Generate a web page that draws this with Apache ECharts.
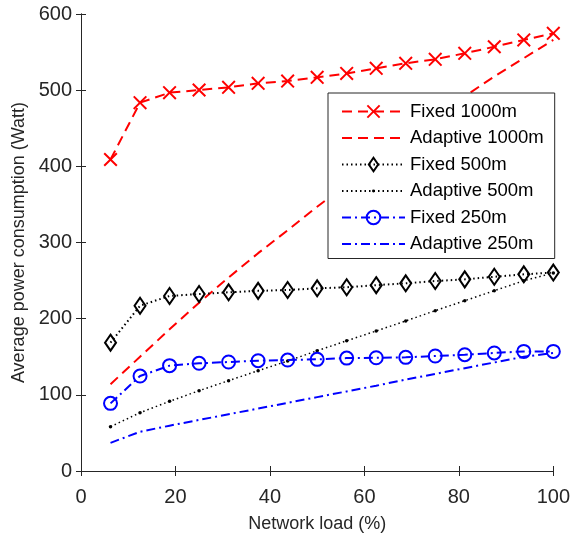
<!DOCTYPE html>
<html>
<head>
<meta charset="utf-8">
<script src="https://cdn.jsdelivr.net/npm/echarts@6/dist/echarts.min.js"></script>
<style>
html,body{margin:0;padding:0;background:#fff;}
#chart{width:573px;height:540px;}
</style>
</head>
<body>
<div id="chart"></div>
<script>
const loads = [6.25,12.5,18.75,25,31.25,37.5,43.75,50,56.25,62.5,68.75,75,81.25,87.5,93.75,100];
const fixed1000 = [409,483.6,496.7,500.2,503.7,509,512,516.8,522,528.7,535.3,540.5,548.4,557,566,574.6];
const adaptive1000 = [114,150,186,221,254,286,316,347,376,405,434,463,492,518,542,566];
const fixed500 = [168.5,217,229.8,232.4,234.6,236.5,237.6,239.8,241.2,244,246.4,249.4,251.6,255,258.2,260.5];
const adaptive500 = [58.2,76.6,91.5,105.4,118.6,131.7,144.4,157.9,171,183.8,197,210.5,223.6,236.7,249.8,260];
const fixed250 = [88.8,124.7,138.3,141.4,143.1,144.8,145.7,146.6,148.2,148.7,149.2,151,152.7,155,157,157];
const adaptive250 = [37,51.5,59.5,67,74.5,82,89.5,97,104.5,112,120,127.5,135,142.5,150,155];
const seriesNames = ['Fixed 1000m','Adaptive 1000m','Fixed 500m','Adaptive 500m','Fixed 250m','Adaptive 250m'];
const xTicks = [0,20,40,60,80,100];
const yTicks = [0,100,200,300,400,500,600];

const pair = arr => loads.map((x,i)=>[x,arr[i]]);
const FONT = 'Liberation Sans';
const AX = '#262626';
const xShape = 'path://M0,1L1,0L5,4L9,0L10,1L6,5L10,9L9,10L5,6L1,10L0,9L4,5Z';
const diamondShape = 'path://M0,0M16,16M8,0L13.5,8L8,16L2.5,8Z';
const dotShape = 'path://M0,0M10,10M3.9,5A1.1,1.1,0,1,0,6.1,5A1.1,1.1,0,1,0,3.9,5Z';

const baseAxisLine = {show:true, lineStyle:{color:AX, width:1}};
const chart = echarts.init(document.getElementById('chart'), null, {renderer:'canvas'});
chart.setOption({
  animation:false,
  backgroundColor:'#fff',
  textStyle:{fontFamily:FONT},
  grid:{left:81, right:18, top:14, bottom:69, containLabel:false},
  xAxis:[{
    type:'value', min:xTicks[0], max:xTicks[xTicks.length-1], interval:20,
    name:'Network load (%)', nameLocation:'middle', nameGap:44,
    nameTextStyle:{fontFamily:FONT, fontSize:18, color:AX},
    axisLine:baseAxisLine,
    axisTick:{show:true, inside:true, length:5, lineStyle:{color:AX}},
    axisLabel:{fontFamily:FONT, fontSize:20, color:AX, margin:16},
    splitLine:{show:false}
  },{
    type:'value', position:'top', min:xTicks[0], max:xTicks[xTicks.length-1], interval:20,
    axisLine:baseAxisLine,
    axisTick:{show:true, inside:true, length:5, lineStyle:{color:AX}},
    axisLabel:{show:false}, splitLine:{show:false}
  }],
  yAxis:[{
    type:'value', min:yTicks[0], max:yTicks[yTicks.length-1], interval:100,
    name:'Average power consumption (Watt)', nameLocation:'middle', nameGap:50,
    nameTextStyle:{fontFamily:FONT, fontSize:18, color:AX},
    axisLine:baseAxisLine,
    axisTick:{show:true, inside:true, length:5, lineStyle:{color:AX}},
    axisLabel:{fontFamily:FONT, fontSize:20, color:AX, margin:9},
    splitLine:{show:false}
  },{
    type:'value', position:'right', min:yTicks[0], max:yTicks[yTicks.length-1], interval:100,
    axisLine:baseAxisLine,
    axisTick:{show:true, inside:true, length:5, lineStyle:{color:AX}},
    axisLabel:{show:false}, splitLine:{show:false}
  }],
  legend:{
    orient:'vertical', left:328, top:93,
    data:[
      {name:seriesNames[0]},
      {name:seriesNames[1], itemStyle:{opacity:0}},
      {name:seriesNames[2]},
      {name:seriesNames[3]},
      {name:seriesNames[4]},
      {name:seriesNames[5], itemStyle:{opacity:0}}
    ],
    backgroundColor:'#fff', borderColor:AX, borderWidth:1, borderRadius:0,
    padding:[9,11,5,13],
    itemWidth:63, itemHeight:17, itemGap:7.5,
    textStyle:{fontFamily:FONT, fontSize:18.5, color:'#000'}
  },
  series:[
    {name:seriesNames[0], type:'line', data:pair(fixed1000),
     symbol:xShape, symbolSize:14,
     lineStyle:{color:'#ff0000', width:2, type:[10,6]},
     itemStyle:{color:'#ff0000'}, z:3},
    {name:seriesNames[1], type:'line', data:pair(adaptive1000),
     symbol:'none', showSymbol:false,
     lineStyle:{color:'#ff0000', width:2, type:[10,6]},
     itemStyle:{color:'#ff0000'}, z:2},
    {name:seriesNames[2], type:'line', data:pair(fixed500),
     symbol:diamondShape, symbolSize:16,
     lineStyle:{color:'#000', width:2, type:[1.5,3]},
     itemStyle:{color:'transparent', borderColor:'#000', borderWidth:2}, z:3},
    {name:seriesNames[3], type:'line', data:pair(adaptive500),
     symbol:dotShape, symbolSize:16,
     lineStyle:{color:'#000', width:1.5, type:[1.5,3]},
     itemStyle:{color:'#000'}, z:2},
    {name:seriesNames[4], type:'line', data:pair(fixed250),
     symbol:'circle', symbolSize:13,
     lineStyle:{color:'#0000ff', width:2, type:[9,4,2,4]},
     itemStyle:{color:'transparent', borderColor:'#0000ff', borderWidth:2}, z:3},
    {name:seriesNames[5], type:'line', data:pair(adaptive250),
     symbol:'none', showSymbol:false,
     lineStyle:{color:'#0000ff', width:2, type:[9,4,2,4]},
     itemStyle:{color:'#0000ff'}, z:2}
  ]
});
</script>
</body>
</html>
